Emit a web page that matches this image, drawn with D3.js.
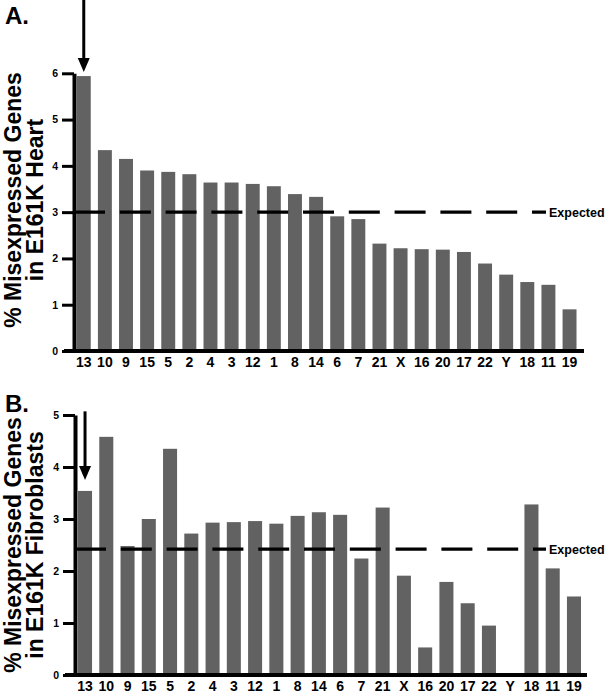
<!DOCTYPE html>
<html>
<head>
<meta charset="utf-8">
<script src="https://cdn.jsdelivr.net/npm/d3@7"></script>
<style>
  html, body { margin: 0; padding: 0; background: #fff; }
  svg { display: block; }
  text { font-family: "Liberation Sans", Arial, Helvetica, sans-serif; font-weight: bold; fill: #000; }
</style>
</head>
<body>
<svg id="chart" width="610" height="698"></svg>
<script>
// ---- Data ----
const chromosomes = ["13","10","9","15","5","2","4","3","12","1","8","14","6","7","21","X","16","20","17","22","Y","18","11","19"];
const heartValues = [5.94,4.34,4.15,3.90,3.87,3.82,3.64,3.64,3.61,3.56,3.39,3.33,2.91,2.85,2.32,2.22,2.20,2.19,2.14,1.89,1.65,1.49,1.43,0.90];
const fibroblastValues = [3.54,4.58,2.48,3.00,4.35,2.72,2.93,2.94,2.96,2.91,3.06,3.13,3.08,2.24,3.22,1.91,0.53,1.79,1.38,0.95,0,3.28,2.05,1.51];
const expectedValues = [3.0, 2.42];
const heartTicks = [0,1,2,3,4,5,6];
const fibroblastTicks = [0,1,2,3,4,5];
const panelLetters = ["A.", "B."];
const yTitles = [["% Misexpressed Genes","in E161K Heart"],["% Misexpressed Genes","in E161K Fibroblasts"]];
const expectedLabel = "Expected";

// ---- Layout ----
const panels = [
  { values: heartValues, ticks: heartTicks, expected: expectedValues[0], letter: panelLetters[0], title: yTitles[0],
    yRange: [351, 73.3], xRange: [73.2, 580.1], axisX: 74, xAxisEnd: 584, letterY: 24, titleY: 200,
    arrowTopVal: null, arrowGap: 4, headLen: 14 },
  { values: fibroblastValues, ticks: fibroblastTicks, expected: expectedValues[1], letter: panelLetters[1], title: yTitles[1],
    yRange: [675, 415], xRange: [74.4, 584.6], axisX: 75, xAxisEnd: 587, letterY: 412, titleY: 545,
    arrowTopVal: 5.07, arrowGap: 11, headLen: 14 }
];

const svg = d3.select("#chart");
svg.append("rect").attr("width", 610).attr("height", 698).attr("fill", "#fff");

panels.forEach(p => {
  const g = svg.append("g");
  const x = d3.scaleBand().domain(chromosomes).range(p.xRange).paddingInner(0.34).paddingOuter(0.17);
  const y = d3.scaleLinear().domain([0, d3.max(p.ticks)]).range(p.yRange);
  const data = chromosomes.map((c, i) => ({ c, v: p.values[i] }));

  // bars
  g.selectAll("rect.bar").data(data).join("rect")
    .attr("class", "bar")
    .attr("x", d => x(d.c))
    .attr("width", x.bandwidth())
    .attr("y", d => y(d.v))
    .attr("height", d => y(0) - y(d.v))
    .attr("fill", "#626262");

  // y axis
  const yAxis = d3.axisLeft(y).tickValues(p.ticks).tickSize(12).tickSizeOuter(0).tickPadding(4).tickFormat(d3.format("d"));
  const ya = g.append("g").attr("transform", `translate(${p.axisX},0)`).call(yAxis);
  ya.select(".domain").attr("stroke", "#000").attr("stroke-width", 4);
  ya.selectAll(".tick line").attr("stroke", "#000").attr("stroke-width", 3);
  ya.selectAll(".tick text").attr("font-size", 10.5).attr("font-weight", "bold")
    .attr("font-family", '"Liberation Sans", Arial, sans-serif').attr("fill", "#000");

  // x axis
  const xAxis = d3.axisBottom(x).tickSize(0).tickPadding(6);
  const xa = g.append("g").attr("transform", `translate(0,${y(0)})`).call(xAxis);
  xa.select(".domain").remove();
  xa.selectAll(".tick text").attr("font-size", 14).attr("font-weight", "bold")
    .attr("font-family", '"Liberation Sans", Arial, sans-serif').attr("fill", "#000");
  g.append("line")
    .attr("x1", p.axisX - 10).attr("x2", p.xAxisEnd)
    .attr("y1", y(0)).attr("y2", y(0))
    .attr("stroke", "#000").attr("stroke-width", 4);

  // expected line
  const labelX = 549;
  g.append("line")
    .attr("x1", p.axisX).attr("x2", labelX - 3)
    .attr("y1", y(p.expected)).attr("y2", y(p.expected))
    .attr("stroke", "#000").attr("stroke-width", 3.2)
    .attr("stroke-dasharray", "31,14.8");
  g.append("text")
    .attr("x", labelX).attr("y", y(p.expected))
    .attr("dy", "0.35em")
    .attr("font-size", 12.5)
    .text(expectedLabel);

  // arrow
  const ax = x(chromosomes[0]) + x.bandwidth() / 2;
  const tip = y(p.values[0]) - p.arrowGap;
  const top = p.arrowTopVal === null ? 0 : y(p.arrowTopVal);
  g.append("line")
    .attr("x1", ax).attr("x2", ax)
    .attr("y1", top).attr("y2", tip - p.headLen + 1)
    .attr("stroke", "#000").attr("stroke-width", 3);
  g.append("path")
    .attr("d", d3.line()([[ax - 6, tip - p.headLen], [ax + 6, tip - p.headLen], [ax, tip]]) + "Z")
    .attr("fill", "#000");

  // panel letter
  g.append("text").attr("x", 5).attr("y", p.letterY).attr("font-size", 24).text(p.letter);

  // y title
  const t = g.append("text")
    .attr("transform", `translate(21,${p.titleY}) rotate(-90)`)
    .attr("text-anchor", "middle")
    .attr("font-size", 23);
  t.append("tspan").attr("x", 0).attr("dy", 0).text(p.title[0]);
  t.append("tspan").attr("x", 0).attr("dy", 21.5).text(p.title[1]);
});
</script>
</body>
</html>
